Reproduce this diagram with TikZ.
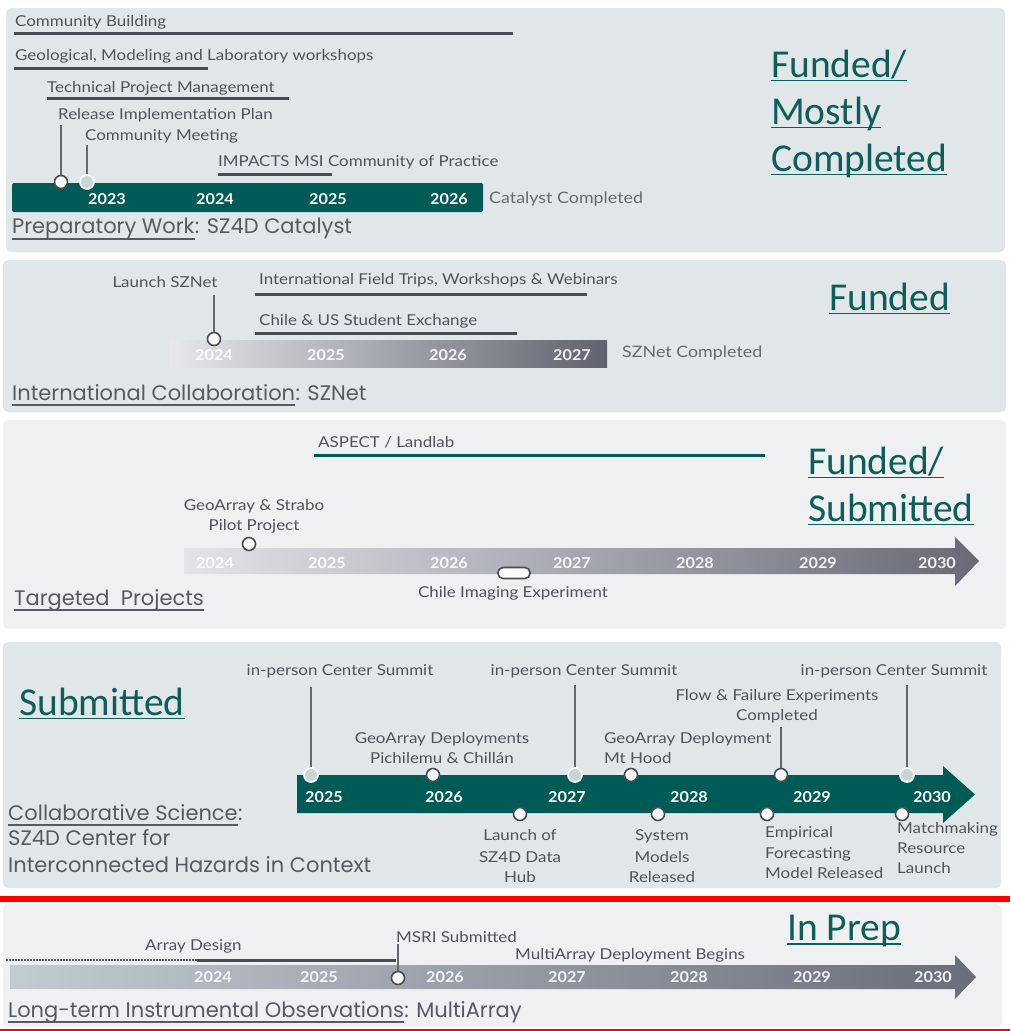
\documentclass[tikz,border=0pt]{standalone}
\usepackage{fontspec}
\setmainfont{Lato}
\newfontfamily\lblfam[FakeStretch=1.13]{Lato}
\newfontfamily\yrfam[FakeStretch=1.08]{Lato}
\newfontfamily\titlefam{Poppins}
\newfontfamily\statfam{Carlito}
\definecolor{panelA}{HTML}{E1E7E9}
\definecolor{panelB}{HTML}{EEF0F2}
\definecolor{tealbar}{HTML}{005A55}
\definecolor{statteal}{HTML}{0D5D5A}
\definecolor{lblgray}{HTML}{4E545A}
\definecolor{ttlgray}{HTML}{565B62}
\definecolor{lightlbl}{HTML}{666B71}
\definecolor{bargray}{HTML}{474D54}
\definecolor{smfill}{HTML}{C6D6D5}
\definecolor{gTwoL}{HTML}{E6E8EC}
\definecolor{gTwoR}{HTML}{60636E}
\definecolor{gThrL}{HTML}{E2E4E8}
\definecolor{gThrR}{HTML}{676A76}
\definecolor{gFivL}{HTML}{C4CAD2}
\definecolor{gFivR}{HTML}{6A6D7A}
\definecolor{redline}{HTML}{FF0000}
\begin{document}
\begin{tikzpicture}[x=1pt,y=-1pt,
  lbl/.style={font=\lblfam\fontsize{15}{18}\selectfont, text=lblgray, inner sep=0pt, anchor=base west},
  lblc/.style={lbl, anchor=base},
  endlbl/.style={lbl, font=\lblfam\fontsize{15.8}{18}\selectfont, text=lightlbl},
  yrb/.style={font=\yrfam\fontsize{15}{18}\selectfont\bfseries, text=white, inner sep=0pt, anchor=base},
  yrg/.style={font=\yrfam\fontsize{15}{18}\selectfont\bfseries, text=white, text opacity=0.9, inner sep=0pt, anchor=base},
  ttl/.style={font=\titlefam\fontsize{21}{24}\selectfont, text=ttlgray, inner sep=0pt, anchor=base west},
  stat/.style={font=\statfam\fontsize{39.5}{47}\selectfont, text=statteal, inner sep=0pt, anchor=base west},
  stul/.style={draw=statteal, line width=1.8pt},
  tul/.style={draw=ttlgray, line width=1.2pt},
  panA/.style={fill=panelA, rounded corners=5pt},
  panB/.style={fill=panelB, rounded corners=5pt},
  span/.style={draw=bargray, line width=3pt},
  stem/.style={draw=bargray!85, line width=1.5pt},
  ms/.style={circle, fill=white, draw=bargray, line width=1.6pt, minimum size=13pt, inner sep=0pt},
  sm/.style={circle, fill=smfill, draw=white!92!smfill, line width=1.8pt, minimum size=14pt, inner sep=0pt},
  pill/.style={rectangle, rounded corners=5pt, fill=white, draw=bargray, line width=1.6pt, minimum width=32pt, minimum height=11pt, inner sep=0pt}
]
\useasboundingbox (0,0) rectangle (1010,1031);
\fill[white] (0,0) rectangle (1010,1031);

% ---------- panels ----------
\fill[panA] (6,8) rectangle (1005,252);
\fill[panA] (3,260) rectangle (1006,412);
\fill[panB] (3,420) rectangle (1006,629);
\fill[panA] (3,642) rectangle (1001,888);
\fill[redline] (0,896) rectangle (1010,902);
\fill[panB] (3,904) rectangle (1002,1027);
\fill[redline] (0,1029) rectangle (1010,1031);

% ---------- panel 1 ----------
\node[lbl] (cb) at (15,26) {Community Building};
\draw[span] (14,33) -- (513,33);
\node[lbl] (gml) at (15,60) {Geological, Modeling and Laboratory workshops};
\draw[span] (14,68) -- (208,68);
\node[lbl] (tpm) at (47,92) {Technical Project Management};
\draw[span] (47,98) -- (289,98);
\node[lbl] (rip) at (58,119) {Release Implementation Plan};
\node[lbl] (cmm) at (85,140) {Community Meeting};
\node[lbl] (imp) at (218,166) {IMPACTS MSI Community of Practice};
\draw[span] (218,174) -- (332,174);
\fill[tealbar, rounded corners=1.5pt] (12,183) rectangle (483,212);
\node[yrb] (y1a) at (107,204) {2023};
\node[yrb] (y1b) at (215,204) {2024};
\node[yrb] (y1c) at (328,204) {2025};
\node[yrb] (y1d) at (449,204) {2026};
\node[endlbl] (catc) at (489,203) {Catalyst Completed};
\node[ms] (c1) at (61,182) {};
\node[sm] (c2) at (87,182) {};
\draw[stem, shorten <=3pt] (c1 |- rip.south) -- (c1.north);
\draw[stem, shorten <=2pt] (c2 |- cmm.south) -- (c2.north);
\node[ttl] (t1) at (12,233) {Preparatory Work};
\node[ttl] (t1b) at (t1.base east) {: SZ4D Catalyst};
\draw[tul] ([yshift=-6pt]t1.base west) -- ([yshift=-6pt]t1.base east);
\node[stat] (s1a) at (771,77) {Funded/};
\node[stat] (s1b) at (771,124) {Mostly};
\node[stat] (s1c) at (771,171) {Completed};
\foreach \n in {s1a,s1b,s1c}{\draw[stul] ([yshift=-3.5pt]\n.base west) -- ([yshift=-3.5pt]\n.base east);}

% ---------- panel 2 ----------
\node[lblc] (lsz) at (165,287) {Launch SZNet};
\node[lbl] (ift) at (259,284) {International Field Trips, Workshops \& Webinars};
\draw[span] (255,294) -- (587,294);
\node[lbl] (cus) at (259,325) {Chile \& US Student Exchange};
\draw[span] (255,333) -- (517,333);
\shade[left color=gTwoL, right color=gTwoR] (169,340) rectangle (607,367);
\node[yrg] (y2a) at (214,360) {2024};
\node[yrg] (y2b) at (326,360) {2025};
\node[yrg] (y2c) at (448,360) {2026};
\node[yrg] (y2d) at (572,360) {2027};
\node[ms] (c3) at (214,339) {};
\draw[stem, shorten <=8pt] (c3 |- lsz.south) -- (c3.north);
\node[endlbl] (szc) at (622,357) {SZNet Completed};
\node[ttl] (t2) at (12,400) {International Collaboration};
\node[ttl] (t2b) at (t2.base east) {: SZNet};
\draw[tul] ([yshift=-5pt]t2.base west) -- ([yshift=-5pt]t2.base east);
\node[stat] (s2a) at (829,310) {Funded};
\draw[stul] ([yshift=-3.5pt]s2a.base west) -- ([yshift=-3.5pt]s2a.base east);

% ---------- panel 3 ----------
\node[lbl] (asp) at (318,447) {ASPECT / Landlab};
\draw[span, draw=tealbar] (314,455) -- (765,455);
\node[lblc] (geo1) at (254,510) {GeoArray \& Strabo};
\node[lblc] (geo2) at (254,530) {Pilot Project};
\shade[left color=gThrL, right color=gThrR] (184,548) -- (955,548) -- (955,537) -- (979,561) -- (955,586) -- (955,574) -- (184,574) -- cycle;
\node[yrg] (y3a) at (215,568) {2024};
\node[yrg] (y3b) at (327,568) {2025};
\node[yrg] (y3c) at (449,568) {2026};
\node[yrg] (y3d) at (572,568) {2027};
\node[yrg] (y3e) at (695,568) {2028};
\node[yrg] (y3f) at (818,568) {2029};
\node[yrg] (y3g) at (937,568) {2030};
\node[ms] (c4) at (249,544) {};
\node[pill] (pl) at (514,573) {};
\node[lblc] (cie) at (513,597) {Chile Imaging Experiment};
\node[ttl] (t3) at (14,605) {Targeted\ \ Projects};
\draw[tul] ([yshift=-5pt]t3.base west) -- ([yshift=-5pt]t3.base east);
\node[stat] (s3a) at (808,474) {Funded/};
\node[stat] (s3b) at (808,521) {Submitted};
\foreach \n in {s3a,s3b}{\draw[stul] ([yshift=-3.5pt]\n.base west) -- ([yshift=-3.5pt]\n.base east);}

% ---------- panel 4 ----------
\node[stat] (s4a) at (19,715) {Submitted};
\draw[stul] ([yshift=-3.5pt]s4a.base west) -- ([yshift=-3.5pt]s4a.base east);
\fill[tealbar] (297,775) -- (943,775) -- (943,766) -- (975,794.5) -- (943,823) -- (943,813) -- (297,813) -- cycle;
\node[yrb] (y4a) at (324,802) {2025};
\node[yrb] (y4b) at (444,802) {2026};
\node[yrb] (y4c) at (567,802) {2027};
\node[yrb] (y4d) at (689,802) {2028};
\node[yrb] (y4e) at (812,802) {2029};
\node[yrb] (y4f) at (932,802) {2030};
\node[lblc] (sum1) at (340,675) {in-person Center Summit};
\node[lblc] (sum2) at (584,675) {in-person Center Summit};
\node[lblc] (sum3) at (894,675) {in-person Center Summit};
\node[lblc] (gad1) at (442,743) {GeoArray Deployments};
\node[lblc] (gad2) at (442,763) {Pichilemu \& Chillán};
\node[lbl] (gmh1) at (604,743) {GeoArray Deployment};
\node[lbl] (gmh2) at (604,763) {Mt Hood};
\node[lblc] (ffe1) at (777,700) {Flow \& Failure Experiments};
\node[lblc] (ffe2) at (777,720) {Completed};
\node[lblc] (lh1) at (520,840) {Launch of};
\node[lblc] (lh2) at (520,862) {SZ4D Data};
\node[lblc] (lh3) at (520,882) {Hub};
\node[lblc] (sy1) at (662,840) {System};
\node[lblc] (sy2) at (662,862) {Models};
\node[lblc] (sy3) at (662,882) {Released};
\node[lbl] (em1) at (765,837) {Empirical};
\node[lbl] (em2) at (765,858) {Forecasting};
\node[lbl] (em3) at (765,878) {Model Released};
\node[lbl] (mm1) at (897,833) {Matchmaking};
\node[lbl] (mm2) at (897,853) {Resource};
\node[lbl] (mm3) at (897,873) {Launch};
\node[sm] (cs1) at (311,775) {};
\node[ms] (cg1) at (433,775) {};
\node[sm] (cs2) at (575,775) {};
\node[ms] (cg2) at (631,775) {};
\node[ms] (cf) at (781,775) {};
\node[sm] (cs3) at (907,775) {};
\node[ms] (cb1) at (520,814) {};
\node[ms] (cb2) at (658,814) {};
\node[ms] (cb3) at (767,814) {};
\node[ms] (cb4) at (902,814) {};
\draw[stem, shorten <=9pt] (cs1 |- sum1.south) -- (cs1.north);
\draw[stem, shorten <=7pt] (cs2 |- sum2.south) -- (cs2.north);
\draw[stem, shorten <=7pt] (cs3 |- sum3.south) -- (cs3.north);
\draw[stem, shorten <=4pt] (cf |- ffe2.south) -- (cf.north);
\node[ttl] (t4) at (8,820) {Collaborative Science};
\node[ttl] (t4b) at (t4.base east) {:};
\draw[tul] ([yshift=-5pt]t4.base west) -- ([yshift=-5pt]t4.base east);
\node[ttl] (t4c) at (8,845) {SZ4D Center for};
\node[ttl] (t4d) at (8,872) {Interconnected Hazards in Context};

% ---------- panel 5 ----------
\node[stat] (s5a) at (787,940) {In Prep};
\draw[stul] ([yshift=-4pt]s5a.base west) -- ([yshift=-4pt]s5a.base east);
\node[lbl] (ad) at (145,950) {Array Design};
\draw[draw=bargray!90, line width=2pt, dash pattern=on 1.5pt off 1.5pt] (6,960) -- (197,960);
\draw[span] (197,960) -- (396,960);
\node[lbl] (msri) at (396,942) {MSRI Submitted};
\node[lbl] (mad) at (515,959) {MultiArray Deployment Begins};
\shade[left color=gFivL, right color=gFivR] (10,965) -- (955,965) -- (955,955) -- (976,977) -- (955,999) -- (955,989) -- (10,989) -- cycle;
\node[yrg] (y5a) at (213,982) {2024};
\node[yrg] (y5b) at (319,982) {2025};
\node[yrg] (y5c) at (445,982) {2026};
\node[yrg] (y5d) at (567,982) {2027};
\node[yrg] (y5e) at (689,982) {2028};
\node[yrg] (y5f) at (812,982) {2029};
\node[yrg] (y5g) at (933,982) {2030};
\node[ms] (c5) at (398,978) {};
\draw[stem, shorten <=2pt] (c5 |- msri.south) -- (c5.north);
\node[ttl] (t5) at (8,1017) {Long-term Instrumental Observations};
\node[ttl] (t5b) at (t5.base east) {: MultiArray};
\draw[tul] ([yshift=-5pt]t5.base west) -- ([yshift=-5pt]t5.base east);
\end{tikzpicture}
\end{document}
